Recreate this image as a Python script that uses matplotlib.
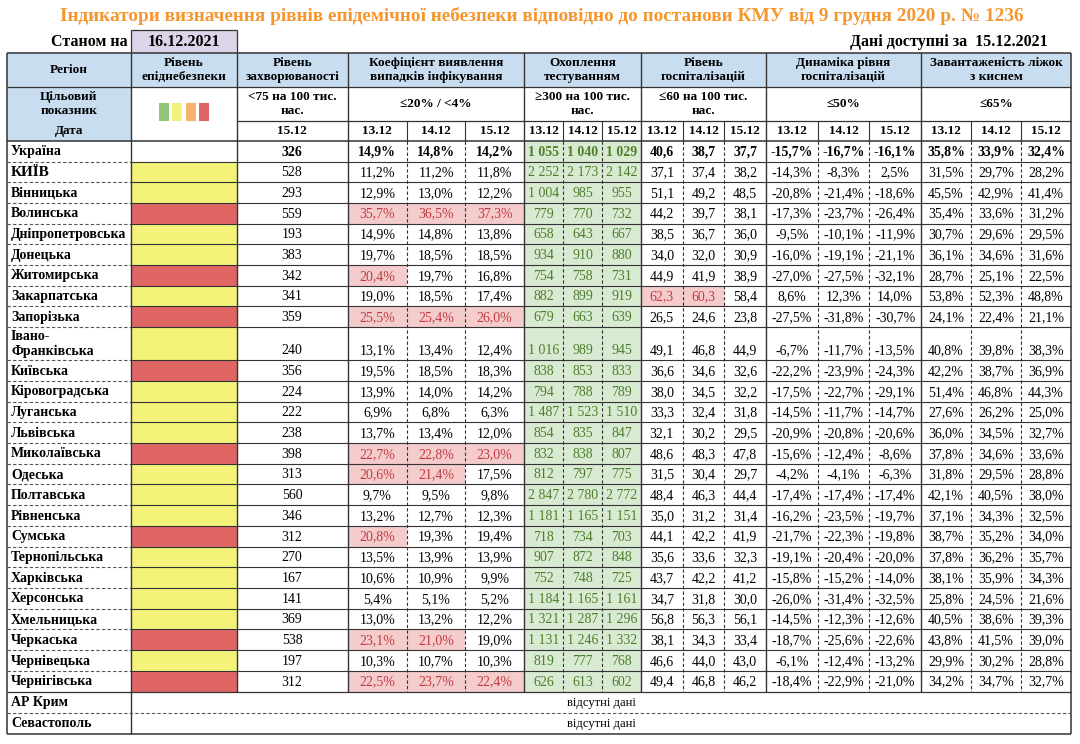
import matplotlib.pyplot as plt
from matplotlib.patches import Rectangle

plt.rcParams['font.family'] = ['Liberation Serif', 'DejaVu Serif']

# ---------------- data ----------------
regions = ['Україна', 'КИЇВ', 'Вінницька', 'Волинська', 'Дніпропетровська', 'Донецька',
           'Житомирська', 'Закарпатська', 'Запорізька', 'Івано-\nФранківська', 'Київська',
           'Кіровоградська', 'Луганська', 'Львівська', 'Миколаївська', 'Одеська',
           'Полтавська', 'Рівненська', 'Сумська', 'Тернопільська', 'Харківська',
           'Херсонська', 'Хмельницька', 'Черкаська', 'Чернівецька', 'Чернігівська']
levels = ['', 'Y', 'Y', 'R', 'Y', 'Y', 'R', 'Y', 'R', 'Y', 'R', 'Y', 'Y', 'Y', 'R', 'Y',
          'Y', 'Y', 'R', 'Y', 'Y', 'Y', 'Y', 'R', 'Y', 'R']
incidence = [326, 528, 293, 559, 193, 383, 342, 341, 359, 240, 356, 224, 222, 238, 398,
             313, 560, 346, 312, 270, 167, 141, 369, 538, 197, 312]
coef = [[14.9, 14.8, 14.2], [11.2, 11.2, 11.8], [12.9, 13.0, 12.2], [35.7, 36.5, 37.3],
        [14.9, 14.8, 13.8], [19.7, 18.5, 18.5], [20.4, 19.7, 16.8], [19.0, 18.5, 17.4],
        [25.5, 25.4, 26.0], [13.1, 13.4, 12.4], [19.5, 18.5, 18.3], [13.9, 14.0, 14.2],
        [6.9, 6.8, 6.3], [13.7, 13.4, 12.0], [22.7, 22.8, 23.0], [20.6, 21.4, 17.5],
        [9.7, 9.5, 9.8], [13.2, 12.7, 12.3], [20.8, 19.3, 19.4], [13.5, 13.9, 13.9],
        [10.6, 10.9, 9.9], [5.4, 5.1, 5.2], [13.0, 13.2, 12.2], [23.1, 21.0, 19.0],
        [10.3, 10.7, 10.3], [22.5, 23.7, 22.4]]
testing = [[1055, 1040, 1029], [2252, 2173, 2142], [1004, 985, 955], [779, 770, 732],
           [658, 643, 667], [934, 910, 880], [754, 758, 731], [882, 899, 919],
           [679, 663, 639], [1016, 989, 945], [838, 853, 833], [794, 788, 789],
           [1487, 1523, 1510], [854, 835, 847], [832, 838, 807], [812, 797, 775],
           [2847, 2780, 2772], [1181, 1165, 1151], [718, 734, 703], [907, 872, 848],
           [752, 748, 725], [1184, 1165, 1161], [1321, 1287, 1296], [1131, 1246, 1332],
           [819, 777, 768], [626, 613, 602]]
hosp = [[40.6, 38.7, 37.7], [37.1, 37.4, 38.2], [51.1, 49.2, 48.5], [44.2, 39.7, 38.1],
        [38.5, 36.7, 36.0], [34.0, 32.0, 30.9], [44.9, 41.9, 38.9], [62.3, 60.3, 58.4],
        [26.5, 24.6, 23.8], [49.1, 46.8, 44.9], [36.6, 34.6, 32.6], [38.0, 34.5, 32.2],
        [33.3, 32.4, 31.8], [32.1, 30.2, 29.5], [48.6, 48.3, 47.8], [31.5, 30.4, 29.7],
        [48.4, 46.3, 44.4], [35.0, 31.2, 31.4], [44.1, 42.2, 41.9], [35.6, 33.6, 32.3],
        [43.7, 42.2, 41.2], [34.7, 31.8, 30.0], [56.8, 56.3, 56.1], [38.1, 34.3, 33.4],
        [46.6, 44.0, 43.0], [49.4, 46.8, 46.2]]
dyn = [[-15.7, -16.7, -16.1], [-14.3, -8.3, 2.5], [-20.8, -21.4, -18.6], [-17.3, -23.7, -26.4],
       [-9.5, -10.1, -11.9], [-16.0, -19.1, -21.1], [-27.0, -27.5, -32.1], [8.6, 12.3, 14.0],
       [-27.5, -31.8, -30.7], [-6.7, -11.7, -13.5], [-22.2, -23.9, -24.3], [-17.5, -22.7, -29.1],
       [-14.5, -11.7, -14.7], [-20.9, -20.8, -20.6], [-15.6, -12.4, -8.6], [-4.2, -4.1, -6.3],
       [-17.4, -17.4, -17.4], [-16.2, -23.5, -19.7], [-21.7, -22.3, -19.8], [-19.1, -20.4, -20.0],
       [-15.8, -15.2, -14.0], [-26.0, -31.4, -32.5], [-14.5, -12.3, -12.6], [-18.7, -25.6, -22.6],
       [-6.1, -12.4, -13.2], [-18.4, -22.9, -21.0]]
beds = [[35.8, 33.9, 32.4], [31.5, 29.7, 28.2], [45.5, 42.9, 41.4], [35.4, 33.6, 31.2],
        [30.7, 29.6, 29.5], [36.1, 34.6, 31.6], [28.7, 25.1, 22.5], [53.8, 52.3, 48.8],
        [24.1, 22.4, 21.1], [40.8, 39.8, 38.3], [42.2, 38.7, 36.9], [51.4, 46.8, 44.3],
        [27.6, 26.2, 25.0], [36.0, 34.5, 32.7], [37.8, 34.6, 33.6], [31.8, 29.5, 28.8],
        [42.1, 40.5, 38.0], [37.1, 34.3, 32.5], [38.7, 35.2, 34.0], [37.8, 36.2, 35.7],
        [38.1, 35.9, 34.3], [25.8, 24.5, 21.6], [40.5, 38.6, 39.3], [43.8, 41.5, 39.0],
        [29.9, 30.2, 28.8], [34.2, 34.7, 32.7]]
missing_regions = ['АР Крим', 'Севастополь']

title = 'Індикатори визначення рівнів епідемічної небезпеки відповідно до постанови КМУ від 9 грудня 2020 р. № 1236'
headers = ['Регіон', 'Рівень\nепіднебезпеки', 'Рівень\nзахворюваності',
           'Коефіцієнт виявлення\nвипадків інфікування', 'Охоплення\nтестуванням',
           'Рівень\nгоспіталізацій', 'Динаміка рівня\nгоспіталізацій',
           'Завантаженість ліжок\nз киснем']
targets = ['<75 на 100 тис.\nнас.', '≤20% / <4%', '≥300 на 100 тис.\nнас.',
           '≤60 на 100 тис.\nнас.', '≤50%', '≤65%']
dates = ['13.12', '14.12', '15.12']

# ---------------- layout (pixels) ----------------
BLUE = '#c9ddf0'
YEL = '#f3f37a'
RED = '#e06666'
PINK = '#f4cccc'
PINKTXT = '#c23a3f'
GREENBG = '#d9ead3'
GREENTXT = '#4d7f2a'
LINE = '#333333'

xs_main = [7, 131, 237, 348]           # region, level, incidence
groups = [(348, 524), (524, 641), (641, 766), (766, 921), (921, 1071)]
y_h0, y_h1, y_h2, y_h3 = 53, 87, 121, 141

row_h = [20.5] + [20.7] * 25
row_h[9] = 33.2
tops = [y_h3]
for h in row_h:
    tops.append(tops[-1] + h)
y_data_end = tops[-1]
y_miss = [y_data_end, y_data_end + 21, y_data_end + 42]

fig = plt.figure(figsize=(10.8, 7.44), dpi=100)
ax = fig.add_axes([0, 0, 1, 1])
ax.set_xlim(0, 1080)
ax.set_ylim(744, 0)
ax.axis('off')


def rect(x0, y0, x1, y1, color):
    ax.add_patch(Rectangle((x0, y0), x1 - x0, y1 - y0, facecolor=color, edgecolor='none', zorder=1))


def hline(y, x0, x1, ls='-', lw=0.9, c=LINE):
    ax.plot([x0, x1], [y, y], ls=ls, lw=lw, color=c, zorder=3, solid_capstyle='butt')


def vline(x, y0, y1, ls='-', lw=0.9, c=LINE):
    ax.plot([x, x], [y0, y1], ls=ls, lw=lw, color=c, zorder=3, solid_capstyle='butt')


def txt(x, y, s, size=10, bold=False, ha='center', color='black', **kw):
    ax.text(x, y, s, fontsize=size, fontweight='bold' if bold else 'normal', ha=ha,
            va='center', color=color, zorder=4, linespacing=1.15, **kw)


# title and top line
txt(542, 16, title, size=13.9, bold=True, color='#f5962f')
txt(128, 42, 'Станом на', size=11.5, bold=True, ha='right')
rect(131, 30, 237, y_h0, '#dcd5ea')
vline(131, 30, y_h0)
vline(237, 30, y_h0)
hline(30, 131, 237)
txt(184, 42, '16.12.2021', size=11.5, bold=True)
txt(1048, 42, 'Дані доступні за  15.12.2021', size=11.5, bold=True, ha='right')

# header backgrounds
rect(7, y_h0, 1071, y_h1, BLUE)
rect(7, y_h1, 131, y_h3, BLUE)

col_edges = xs_main + [g[1] for g in groups]
for i, h in enumerate(headers):
    txt((col_edges[i] + col_edges[i + 1]) / 2, (y_h0 + y_h1) / 2, h, size=9.5, bold=True)

txt(69, 104, 'Цільовий\nпоказник', size=9.5, bold=True)
txt(69, 131, 'Дата', size=9.5, bold=True)

# legend squares in level column
for k, c in enumerate(['#93c47d', YEL, '#f6b26b', RED]):
    rect(159 + k * 13.4, 103, 169 + k * 13.4, 121, c)

# targets and dates
txt(292, 104, targets[0], size=9.5, bold=True)
txt(292, 131, '15.12', size=9.5, bold=True)
for g, t in zip(groups, targets[1:]):
    txt((g[0] + g[1]) / 2, 104, t, size=9.5, bold=True)
    w = (g[1] - g[0]) / 3
    for j, d in enumerate(dates):
        txt(g[0] + w * (j + 0.5), 131, d, size=9.5, bold=True)

# testing column background
rect(524, y_h3, 641, y_data_end, GREENBG)


def fmt_pct(v):
    return f'{v:.1f}%'.replace('.', ',')


def fmt_dec(v):
    return f'{v:.1f}'.replace('.', ',')


def fmt_int(v):
    return f'{v:,}'.replace(',', ' ')


# data rows
for i, name in enumerate(regions):
    y0, y1 = tops[i], tops[i + 1]
    yc = (y0 + y1) / 2
    bold = i == 0
    txt(11, yc + 0.5, name, size=11 if name == 'КИЇВ' else 10, bold=True, ha='left')
    if levels[i]:
        rect(131, y0, 237, y1, YEL if levels[i] == 'Y' else RED)
    yt = y1 - 9.5
    txt(292, yt, str(incidence[i]), bold=bold)
    blocks = [(coef[i], fmt_pct, lambda v: v > 20), (testing[i], fmt_int, None),
              (hosp[i], fmt_dec, lambda v: v > 60), (dyn[i], fmt_pct, None),
              (beds[i], fmt_pct, None)]
    for gi, (g, (vals, f, hi)) in enumerate(zip(groups, blocks)):
        w = (g[1] - g[0]) / 3
        for j, v in enumerate(vals):
            x0 = g[0] + w * j
            color = GREENTXT if gi == 1 else 'black'
            if hi is not None and hi(v):
                rect(x0, y0, x0 + w, y1, PINK)
                color = PINKTXT
            txt(x0 + w / 2, yt, f(v), bold=bold, color=color)

# missing rows
for k, name in enumerate(missing_regions):
    yc = (y_miss[k] + y_miss[k + 1]) / 2
    txt(11, yc, name, size=10, bold=True, ha='left')
    txt(601, yc + 1, 'відсутні дані', size=9)

# ---------------- grid lines ----------------
bottom = y_miss[-1]
# outer frame and header lines
hline(y_h0, 7, 1071, lw=1.1)
hline(y_h1, 7, 1071, lw=0.9)
hline(y_h2, 237, 1071, lw=0.9)
hline(y_h3, 7, 1071, lw=1.1)
hline(bottom, 7, 1071, lw=1.1)
vline(7, y_h0, bottom, lw=1.1)
vline(1071, y_h0, bottom, lw=1.1)
vline(131, y_h0, bottom, lw=1.0)
vline(237, y_h0, y_data_end, lw=1.0)
for g in groups:
    vline(g[0], y_h0, y_data_end, lw=1.0)
    w = (g[1] - g[0]) / 3
    for j in (1, 2):
        vline(g[0] + w * j, y_h2, y_h3, lw=0.8)
        vline(g[0] + w * j, y_h3, y_data_end, ls=(0, (3, 2)), lw=0.8)

# row separators
for i in range(1, len(regions)):
    y = tops[i]
    hline(y, 7, 131, ls=(0, (3, 2)), lw=0.8, c='#555555')
    hline(y, 131, 1071, lw=0.8)
hline(y_data_end, 7, 1071, lw=0.9)
hline(y_miss[1], 7, 1071, ls=(0, (3, 2)), lw=0.8, c='#555555')

fig.savefig('out.png', dpi=100)
